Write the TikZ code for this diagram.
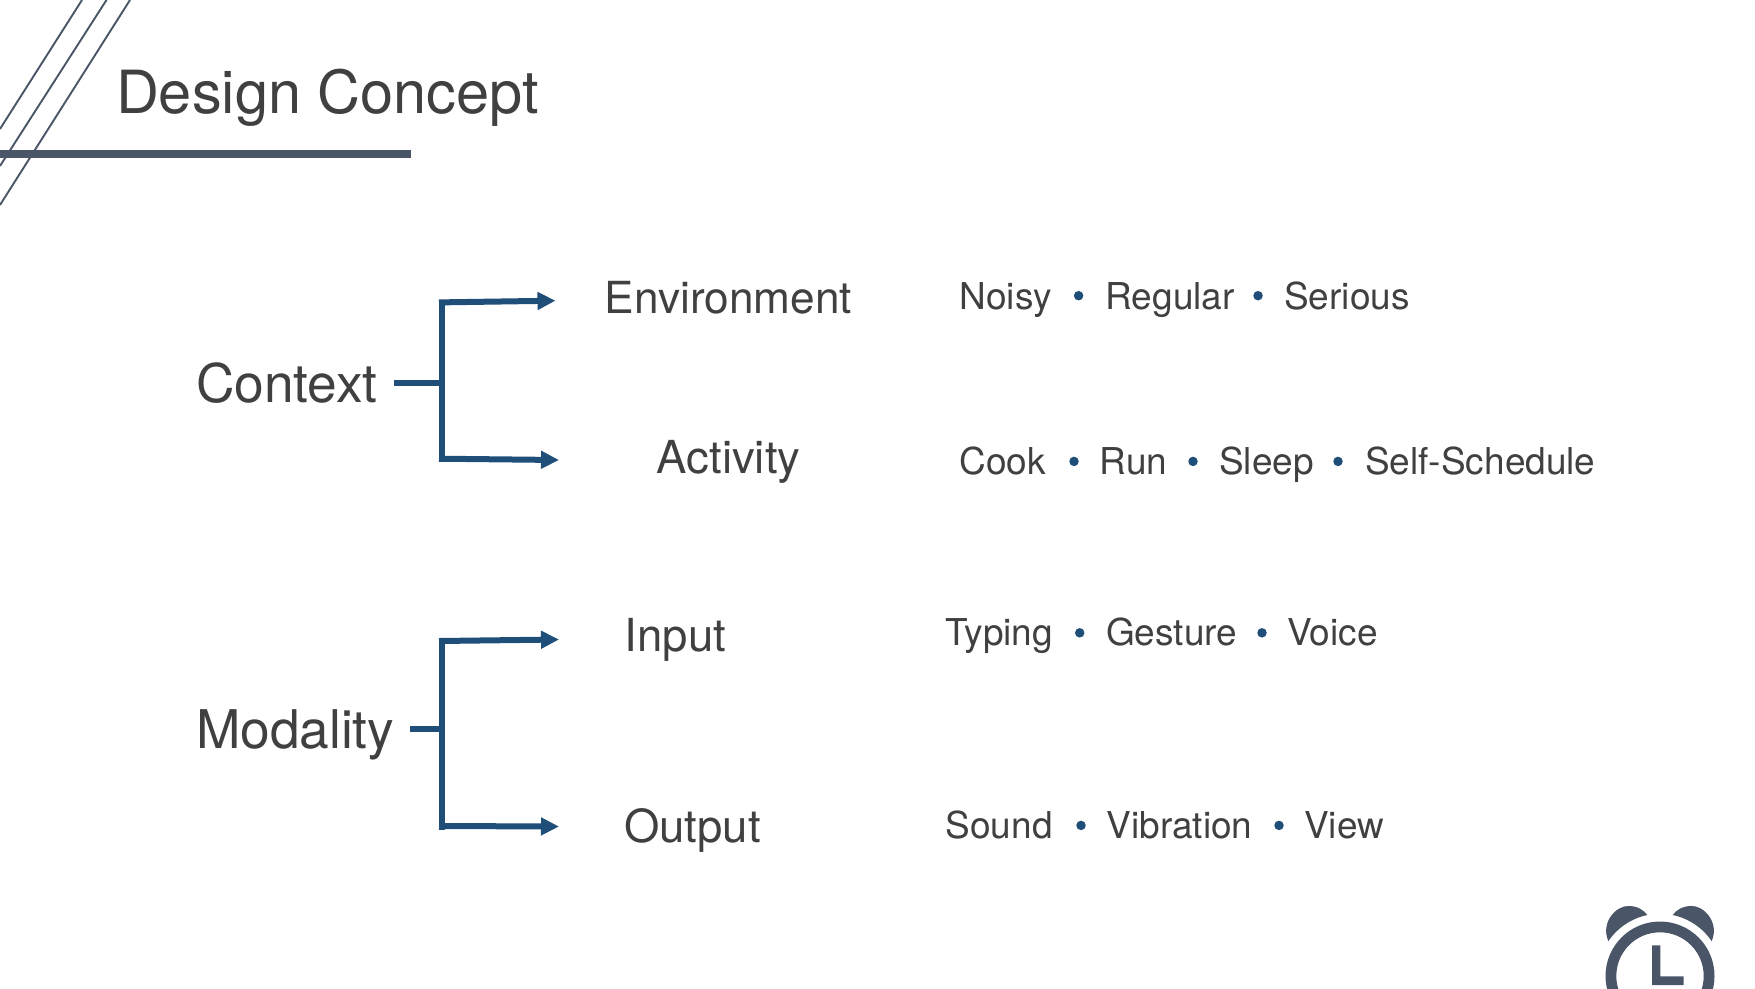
\documentclass[tikz,border=0pt]{standalone}
\usepackage{fontspec}
\setmainfont{TeX Gyre Heros}
\usetikzlibrary{arrows.meta}
\definecolor{slate}{HTML}{4A5568}
\definecolor{navy}{HTML}{1F4E79}
\definecolor{ink}{HTML}{404040}
\tikzset{
  txt/.style={anchor=base west,inner sep=0pt,text=ink},
  ttl/.style={txt,font=\fontsize{59.5}{59.5}\selectfont},
  big/.style={txt,font=\fontsize{53.3}{53.3}\selectfont},
  mid/.style={txt,font=\fontsize{44.2}{44.2}\selectfont},
  midw/.style={txt,font=\fontsize{45.5}{45.5}\selectfont},
  small/.style={txt,font=\fontsize{37}{37}\selectfont},
  sep/.style={circle,fill=navy,inner sep=0pt,minimum size=9.5pt},
  conn/.style={draw=navy,line width=6pt},
  arr/.style={conn,-{Triangle[length=18pt,width=17pt]}},
  deco/.style={draw=slate,line width=1.9pt}
}
\begin{document}
\begin{tikzpicture}[x=1pt,y=-1pt]
\useasboundingbox (0,0) rectangle (1755,988);
\begin{scope}
\clip (0,0) rectangle (1755,988);
\draw[deco] (82,0) -- (0,129);
\draw[deco] (106.5,0) -- (0,166);
\draw[deco] (130,0) -- (0,205);
\fill[slate] (0,150) rectangle (411,158);
% alarm clock
\fill[slate,even odd rule] (1660,976) circle[radius=54.5] (1660,976) circle[radius=43.7];
\fill[slate] (1652,945.3) -- (1660.3,945.3) -- (1660.3,976.3) -- (1683.7,976.3) -- (1683.7,985) -- (1652,985) -- cycle;
\fill[slate] (1608.3,941) .. controls (1600,922) and (1617,905) .. (1629,906) .. controls (1637,906) and (1644,910) .. (1647.3,915) arc[start angle=-101.8,end angle=-145.9,radius=62.4] -- cycle;
\fill[slate] (1711.7,941) .. controls (1720,922) and (1703,905) .. (1691,906) .. controls (1683,906) and (1676,910) .. (1672.7,915) arc[start angle=-78.2,end angle=-34.1,radius=62.4] -- cycle;
\end{scope}

\node[ttl] (title) at (115.8,113.3) {Design Concept};
\node[big] (context) at (195.8,402.7) {Context};
\node[big] (modality) at (195.8,748.4) {Modality};
\node[mid] (environment) at (604.5,313.7) {Environment};
\node[midw] (activity) at (656.6,473.6) {Activity};
\node[midw] (input) at (624.5,651.5) {Input};
\node[midw] (output) at (624,842.4) {Output};

\node[small] (noisy) at (959.4,309.7) {Noisy};
\node[sep] (d1) at (1078.6,295.7) {};
\node[small] (regular) at (1105.4,309.7) {Regular};
\node[sep] (d2) at (1258,295.7) {};
\node[small] (serious) at (1284,309.7) {Serious};

\node[small] (cook) at (959.4,474.6) {Cook};
\node[sep] (d3) at (1074,461.4) {};
\node[small] (run) at (1099.5,474.6) {Run};
\node[sep] (d4) at (1193,461.4) {};
\node[small] (sleep) at (1219,474.6) {Sleep};
\node[sep] (d5) at (1338,461.4) {};
\node[small] (self) at (1365,474.6) {Self-Schedule};

\node[small] (typing) at (945.4,645.6) {Typing};
\node[sep] (d6) at (1079.7,632.8) {};
\node[small] (gesture) at (1105.9,645.6) {Gesture};
\node[sep] (d7) at (1262,632.8) {};
\node[small] (voice) at (1287,645.6) {Voice};

\node[small] (sound) at (945.4,838.4) {Sound};
\node[sep] (d8) at (1081,825.4) {};
\node[small] (vibration) at (1106.4,838.4) {Vibration};
\node[sep] (d9) at (1279,825.4) {};
\node[small] (view) at (1304,838.4) {View};

% Context bracket
\coordinate (c0) at (394,383);
\coordinate (c1) at (442.4,383);
\coordinate (ct) at (442.4,300);
\coordinate (cb) at (442.4,461.5);
\coordinate (ca0) at (439,302.4);
\coordinate (ca1) at (555.5,300.7);
\coordinate (cb0) at (439,458.7);
\coordinate (cb1) at (559,460);
\draw[conn] (c0) -- (c1);
\draw[conn] (ct) -- (cb);
\draw[arr] (ca0) -- (ca1);
\draw[arr] (cb0) -- (cb1);

% Modality bracket
\coordinate (m0) at (410,729);
\coordinate (m1) at (442.4,729);
\coordinate (mt) at (442.4,638.5);
\coordinate (mb) at (442.4,830);
\coordinate (ma0) at (439,641);
\coordinate (ma1) at (559,639.5);
\coordinate (mb0) at (439,826);
\coordinate (mb1) at (559,826.5);
\draw[conn] (m0) -- (m1);
\draw[conn] (mt) -- (mb);
\draw[arr] (ma0) -- (ma1);
\draw[arr] (mb0) -- (mb1);
\end{tikzpicture}
\end{document}
